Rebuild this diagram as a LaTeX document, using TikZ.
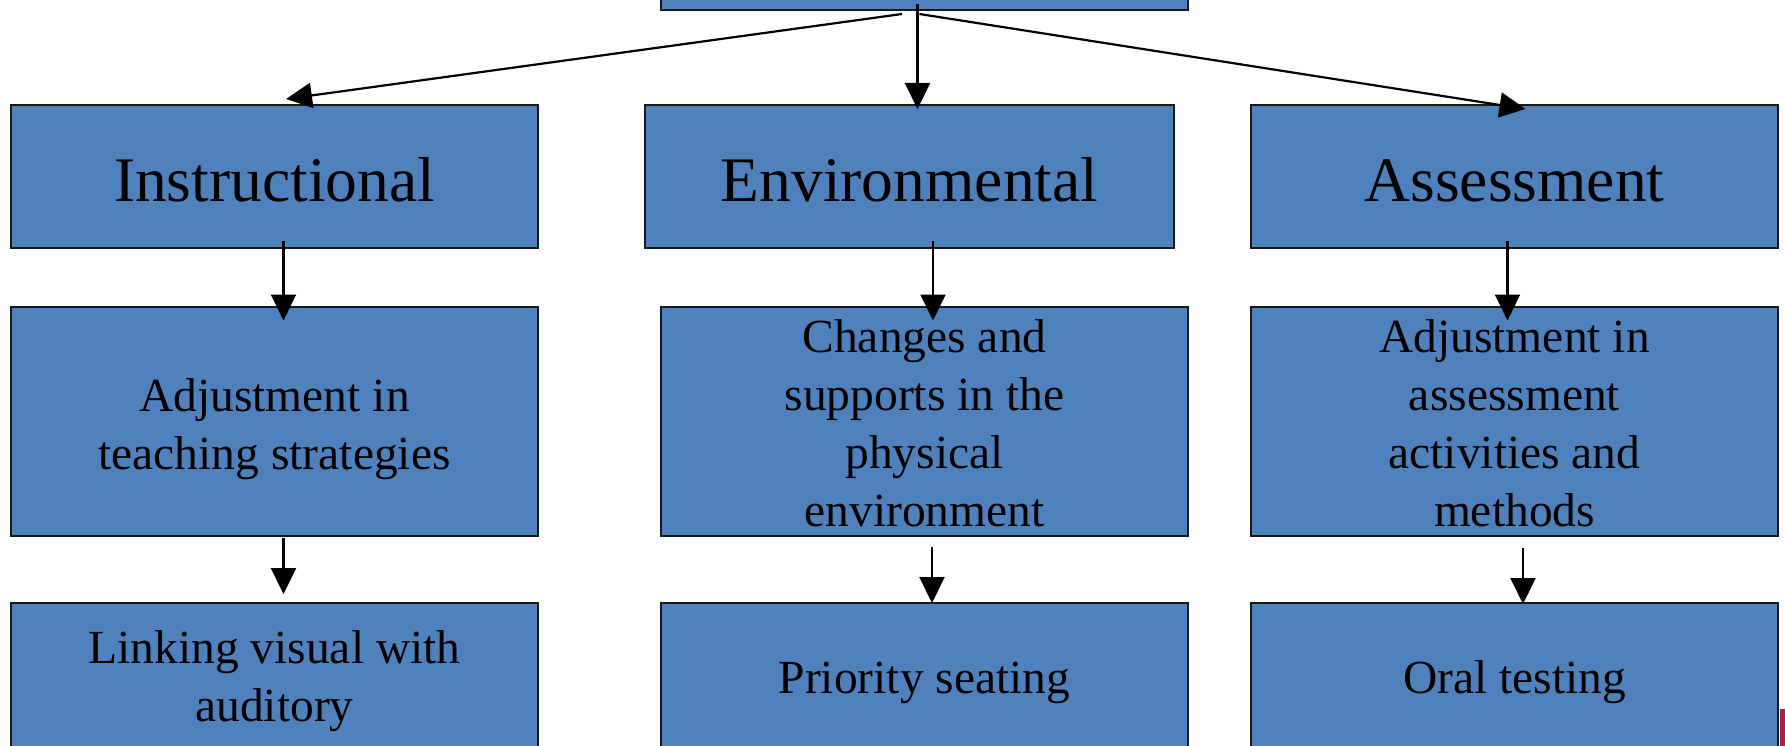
\documentclass[tikz,border=0pt]{standalone}
\usepackage{fontspec}
\setmainfont{Liberation Serif}
\usepackage{tikz}
\usetikzlibrary{arrows.meta}
\definecolor{boxblue}{HTML}{4F81BD}
\definecolor{edgered}{HTML}{B01E4F}
\tikzset{%
  tipA/.tip={Triangle[width=25pt,length=26pt]},
  blk/.style={draw=black!90, line width=2pt, fill=boxblue, inner sep=0pt, align=center, minimum width=527pt},
  head/.style={blk, minimum height=143pt, font=\fontsize{63.5}{76}\selectfont},
  sub/.style={blk, minimum height=229pt, font=\fontsize{47.5}{58}\selectfont},
  leaf/.style={blk, minimum height=156pt, font=\fontsize{47.5}{58}\selectfont},
  arr/.style={line width=2.2pt, -tipA}
}

\begin{document}
\begin{tikzpicture}[x=1pt,y=-1pt]
\useasboundingbox (0,0) rectangle (1785,746);
\clip (0,0) rectangle (1785,746);
\node[blk, minimum height=140pt] (top) at (924.5,-60) {};
\node[head] (instr) at (274.5,176.5) {\rule{0pt}{50pt}Instructional};
\node[head, minimum width=529pt] (env) at (909.5,176.5) {\rule{0pt}{50pt}Environmental};
\node[head] (assess) at (1514.5,176.5) {\rule{0pt}{50pt}Assessment};
\node[sub] (adjinstr) at (274.5,421) {\rule{0pt}{50pt}Adjustment in\\teaching strategies};
\node[sub] (changes) at (924.5,421) {\rule{0pt}{38pt}Changes and\\supports in the\\physical\\environment};
\node[sub] (adjassess) at (1514.5,421) {\rule{0pt}{38pt}Adjustment in\\assessment\\activities and\\methods};
\node[leaf] (link) at (274.5,681) {Linking visual with\\auditory};
\node[leaf] (seating) at (924.5,681) {\rule{0pt}{36pt}Priority seating};
\node[leaf] (oral) at (1514.5,681) {\rule{0pt}{36pt}Oral testing};
\fill[edgered] (1780,709) rectangle (1790,760);
\draw[arr] ([xshift=-22.5pt,yshift=-3pt]top.south) -- ([xshift=11.5pt,yshift=5pt]instr.north);
\draw[arr] ([xshift=-7pt,yshift=7pt]top.south) -- ([xshift=8pt,yshift=-5pt]env.north);
\draw[arr] ([xshift=-5pt,yshift=-3pt]top.south) -- ([xshift=11pt,yshift=-5pt]assess.north);
\draw[arr] ([xshift=9pt,yshift=8pt]instr.south) -- ([xshift=9pt,yshift=-15pt]adjinstr.north);
\draw[arr] ([xshift=23.5pt,yshift=8pt]env.south) -- ([xshift=8.5pt,yshift=-15pt]changes.north);
\draw[arr] ([xshift=-7pt,yshift=8pt]assess.south) -- ([xshift=-7pt,yshift=-15pt]adjassess.north);
\draw[arr] ([xshift=9pt,yshift=-1pt]adjinstr.south) -- ([xshift=9pt,yshift=8pt]link.north);
\draw[arr] ([xshift=7.5pt,yshift=-10pt]changes.south) -- ([xshift=7.5pt,yshift=-1pt]seating.north);
\draw[arr] ([xshift=8.5pt,yshift=-11pt]adjassess.south) -- ([xshift=8.5pt,yshift=-2pt]oral.north);
\end{tikzpicture}
\end{document}
